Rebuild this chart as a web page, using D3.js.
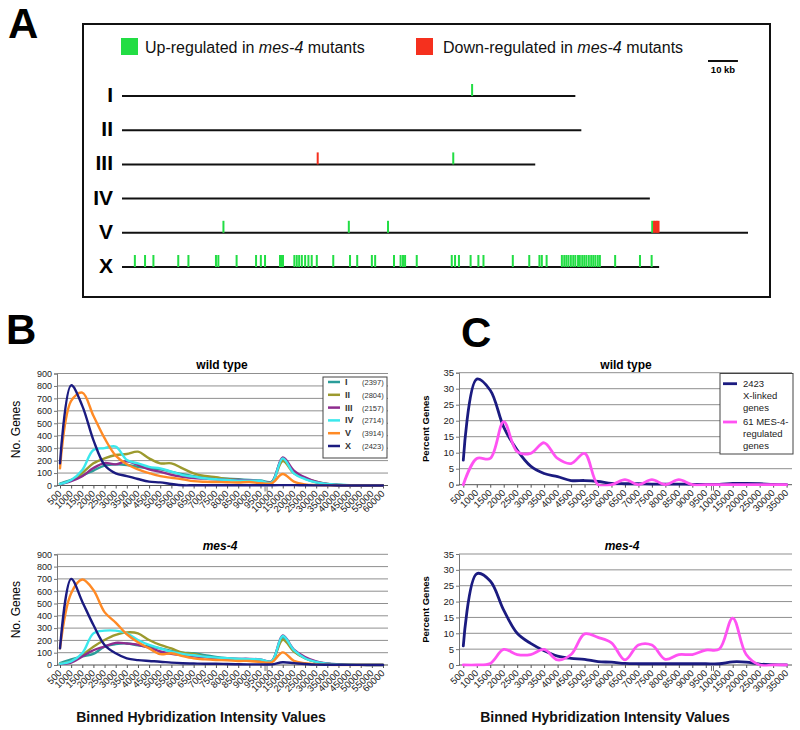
<!DOCTYPE html>
<html><head><meta charset="utf-8">
<script src="https://cdn.jsdelivr.net/npm/d3@7"></script>
<style>
body{margin:0;background:#fff}
svg{display:block}
text{font-family:"Liberation Sans",Arial,Helvetica,sans-serif}
</style>
</head><body>
<svg id="c" width="800" height="730"></svg>
<script>
// ---------- Panel A data (positions in Mb) ----------
const chromNames = ["I","II","III","IV","V","X"];
const chromLengths = [15.15,15.35,13.81,17.64,20.92,17.95];
const upI = [11.70];
const upIII = [11.07];
const downIII = [6.54];
const upV = [3.39,7.58,8.89,17.72];
const downV = [17.78,17.83,17.88,17.93];
const upX = [0.43,0.77,1.05,1.88,2.22,3.14,3.22,3.83,4.48,4.64,4.78,5.28,5.34,5.38,5.76,5.84,5.92,6.01,6.12,6.23,6.34,6.51,7.06,7.62,7.86,8.35,8.46,9.09,9.31,9.39,9.46,9.85,11.02,11.13,11.26,11.65,11.91,12.08,13.06,13.61,13.95,14.03,14.19,14.70,14.78,14.85,14.92,15.00,15.08,15.15,15.24,15.30,15.38,15.45,15.52,15.60,15.68,15.75,15.82,15.90,15.97,16.48,17.31,17.70];

// ---------- Panel B data ----------
const catsB = ["500","1000","1500","2000","2500","3000","3500","4000","4500","5000","5500","6000","6500","7000","7500","8000","8500","9000","9500","10000","15000","20000","25000","30000","35000","40000","45000","50000","55000","60000"];
const seriesNamesB = ["I","II","III","IV","V","X"];
const seriesCountsB = ["(2397)","(2804)","(2157)","(2714)","(3914)","(2423)"];
const wtI   = [15,45,80,120,160,170,165,150,140,130,110,90,75,65,60,55,50,45,40,30,215,110,55,25,10,4,2,1,0,0];
const wtII  = [10,40,100,178,218,245,253,272,218,178,178,138,98,76,66,52,44,39,35,25,196,98,60,30,12,5,2,1,0,0];
const wtIII = [10,35,75,140,180,170,195,165,130,110,85,70,60,55,50,45,45,42,35,25,225,120,65,30,12,5,2,1,0,0];
const wtIV  = [12,44,125,286,300,313,205,178,150,138,111,84,71,58,50,44,39,39,36,23,218,98,52,25,12,6,2,1,0,0];
const wtV   = [138,680,746,560,380,240,170,130,100,75,62,50,35,30,28,26,24,28,18,18,92,31,9,3,1,0,0,0,0,0];
const wtX   = [178,805,640,365,165,98,76,52,31,25,12,2,2,2,2,2,2,2,2,2,3,3,2,1,1,0,0,0,0,0];
const mesI   = [15,45,70,90,150,170,175,160,150,135,115,100,95,80,65,55,50,45,40,28,225,115,55,25,10,4,2,1,0,0];
const mesII  = [10,30,80,149,203,244,265,257,203,163,135,100,89,68,54,46,41,42,38,28,205,110,55,25,10,4,2,1,0,0];
const mesIII = [8,20,70,120,150,180,175,165,140,110,90,80,70,65,55,50,50,50,45,30,240,125,65,30,12,5,2,1,0,0];
const mesIV  = [10,30,95,257,279,279,257,203,163,135,108,89,79,68,60,55,50,48,45,30,236,120,55,25,10,5,2,1,0,0];
const mesV   = [135,583,695,610,430,345,250,185,135,88,95,72,54,46,41,38,33,33,24,22,103,33,14,5,2,0,0,0,0,0];
const mesX   = [135,700,515,325,163,95,54,40,33,27,19,14,12,10,10,8,6,5,5,5,22,15,8,3,2,2,1,1,0,0];
const yTicksB = [0,100,200,300,400,500,600,700,800,900];

// ---------- Panel C data ----------
const catsC = ["500","1000","1500","2000","2500","3000","3500","4000","4500","5000","5500","6000","6500","7000","7500","8000","8500","9000","9500","10000","15000","20000","25000","30000","35000"];
const wtXlinked = [7.7,33,29.5,18,10.8,5.8,3.5,2.5,1.3,1.3,1.0,0.4,0.3,0.3,0.2,0.2,0.2,0.1,0.1,0.1,0.4,0.4,0.3,0.1,0];
const wtMes4Reg = [0,8.2,8.2,19.7,10.3,9.8,13.1,8.2,6.6,9.8,0,0,1.6,0,1.6,0,1.6,0,0,0,0,0,0,0,0];
const mesXlinked = [6,28.8,26.5,17.3,10,6.8,4.5,2.8,2.1,1.8,1.05,0.9,0.5,0.4,0.4,0.4,0.4,0.4,0.4,0.4,1,0.9,0.3,0.1,0];
const mesMes4Reg = [0,0,0.5,4.9,3.3,3.3,4.9,1.6,3.3,9.8,8.7,7.0,1.6,6.3,6.3,1.8,3.3,3.3,4.7,5.0,14.8,3.3,0,0,0];
const yTicksC = [0,5,10,15,20,25,30,35];

const colorsB = ["#2a9d9a","#9c9a2e","#8e2c8e","#3be8ec","#ff8a25","#1b1b80"];
const colorX = "#1b1b80", colorPink = "#ff52f2";
const GREEN = "#22dd44", RED = "#f5301e";

const svg = d3.select("#c");

// ---------- Panel letters ----------
[["A",8,38],["B",6,344],["C",461,347]].forEach(([t,x,y])=>{
  svg.append("text").attr("x",x).attr("y",y).attr("font-size",42).attr("font-weight","bold").attr("fill","#000").text(t);
});

// ---------- Panel A ----------
const gA = svg.append("g");
gA.append("rect").attr("x",83).attr("y",24).attr("width",687).attr("height",273)
  .attr("fill","none").attr("stroke","#111").attr("stroke-width",2);
const xA = d3.scaleLinear().domain([0,20.92]).range([122,748]);
const yA = d3.scalePoint().domain(chromNames).range([96,267]);
// legend
gA.append("rect").attr("x",121).attr("y",38).attr("width",17).attr("height",17).attr("fill",GREEN);
const t1 = gA.append("text").attr("x",145).attr("y",53).attr("font-size",16).attr("fill","#111");
t1.append("tspan").text("Up-regulated in ");
t1.append("tspan").attr("font-style","italic").text("mes-4");
t1.append("tspan").text(" mutants");
gA.append("rect").attr("x",416).attr("y",38).attr("width",17).attr("height",17).attr("fill",RED);
const t2 = gA.append("text").attr("x",443).attr("y",53).attr("font-size",16).attr("fill","#111");
t2.append("tspan").text("Down-regulated in ");
t2.append("tspan").attr("font-style","italic").text("mes-4");
t2.append("tspan").text(" mutants");
// scale bar
gA.append("line").attr("x1",708).attr("x2",xA(1.0)-122+708).attr("y1",61).attr("y2",61).attr("stroke","#111").attr("stroke-width",2);
gA.append("text").attr("x",723).attr("y",73).attr("text-anchor","middle").attr("font-size",9.5).attr("font-weight","bold").text("10 kb");
// chromosomes
chromNames.forEach((c,i)=>{
  const y = yA(c);
  gA.append("line").attr("x1",xA(0)).attr("x2",xA(chromLengths[i])).attr("y1",y).attr("y2",y).attr("stroke","#111").attr("stroke-width",2);
  gA.append("text").attr("x",113).attr("y",y+6).attr("text-anchor","end").attr("font-size",21).attr("font-weight","bold").text(c);
});
function ticks(arr, chrom, color){
  gA.selectAll(null).data(arr).join("rect")
    .attr("x",d=>xA(d)-1).attr("width",2).attr("y",yA(chrom)-12).attr("height",12).attr("fill",color);
}
ticks(upI,"I",GREEN);
ticks(upIII,"III",GREEN);
ticks(downIII,"III",RED);
ticks(upV,"V",GREEN);
ticks(downV,"V",RED);
ticks(upX,"X",GREEN);

// ---------- Generic line chart ----------
let clipId = 0;
function lineChart(cfg){
  const g = svg.append("g");
  const x = d3.scalePoint().domain(cfg.cats).range(cfg.xr);
  const y = d3.scaleLinear().domain([0,cfg.yMax]).range([cfg.yBot,cfg.yTop]);
  // gridlines
  g.selectAll(null).data(cfg.yTicks.slice(1)).join("line")
    .attr("x1",cfg.left).attr("x2",cfg.right).attr("y1",d=>y(d)).attr("y2",d=>y(d))
    .attr("stroke","#8f8f8f").attr("stroke-width",1);
  // y axis
  const ya = g.append("g").attr("transform",`translate(${cfg.left},0)`)
    .call(d3.axisLeft(y).tickValues(cfg.yTicks).tickSize(3).tickPadding(2));
  ya.select(".domain").attr("stroke","#777");
  ya.selectAll(".tick line").attr("stroke","#777");
  ya.selectAll("text").attr("font-size",cfg.yFont).attr("fill","#222").attr("font-family","Liberation Sans, Arial, sans-serif");
  // x axis
  const xa = g.append("g").attr("transform",`translate(0,${cfg.yBot})`)
    .call(d3.axisBottom(x).tickSize(3).tickSizeOuter(0));
  xa.select(".domain").remove();
  xa.selectAll(".tick line").attr("stroke","#555");
  xa.selectAll("text").attr("font-size",cfg.xFont).attr("fill","#222")
    .attr("font-family","Liberation Sans, Arial, sans-serif")
    .attr("text-anchor","end").attr("dy",null).attr("y",null)
    .attr("transform","translate(0,7) rotate(-45)").attr("dominant-baseline","middle");
  g.append("line").attr("x1",cfg.left).attr("x2",cfg.right).attr("y1",cfg.yBot).attr("y2",cfg.yBot)
    .attr("stroke","#555").attr("stroke-width",1);
  // break marker between 9500 and 10000
  const bx = (x(cfg.cats[18])+x(cfg.cats[19]))/2;
  [-1,1].forEach(o=>g.append("line").attr("x1",bx+o).attr("x2",bx+o).attr("y1",cfg.yBot+1).attr("y2",cfg.yBot+6).attr("stroke","#777").attr("stroke-width",1));
  // lines
  const id = "clip"+(clipId++);
  svg.append("clipPath").attr("id",id).append("rect")
    .attr("x",cfg.left).attr("y",cfg.yTop-8).attr("width",cfg.right-cfg.left).attr("height",cfg.yBot-cfg.yTop+9.5);
  const line = d3.line().x((d,i)=>x(cfg.cats[i])).y(d=>y(d)).curve(d3.curveCatmullRom.alpha(0.5));
  const lg = g.append("g").attr("clip-path",`url(#${id})`);
  cfg.series.forEach((s,k)=>{
    lg.append("path").attr("d",line(s)).attr("fill","none").attr("stroke",cfg.colors[k])
      .attr("stroke-width",cfg.lw).attr("stroke-linejoin","round").attr("stroke-linecap","round");
  });
  // title
  const tt = g.append("text").attr("x",cfg.titleX).attr("y",cfg.titleY).attr("text-anchor","middle")
    .attr("font-size",12).attr("font-weight","bold").text(cfg.title);
  if(cfg.titleItalic) tt.attr("font-style","italic");
  // y label
  g.append("text").attr("transform",`translate(${cfg.ylabX},${(cfg.yTop+cfg.yBot)/2}) rotate(-90)`)
    .attr("text-anchor","middle").attr("font-size",cfg.ylabSize).attr("font-weight",cfg.ylabBold?"bold":"normal")
    .text(cfg.ylab);
  return {g,x,y};
}

// ---------- Panel B ----------
lineChart({cats:catsB, xr:[60,383], yMax:900, yTicks:yTicksB, yTop:373.5, yBot:485.5, left:57, right:388,
  series:[wtI,wtII,wtIII,wtIV,wtV,wtX], colors:colorsB, lw:2.4, yFont:9, xFont:9.5,
  title:"wild type", titleX:222, titleY:369, ylab:"No. Genes", ylabX:20, ylabSize:12, ylabBold:false});
lineChart({cats:catsB, xr:[60,383], yMax:900, yTicks:yTicksB, yTop:554.3, yBot:665, left:57, right:388,
  series:[mesI,mesII,mesIII,mesIV,mesV,mesX], colors:colorsB, lw:2.4, yFont:9, xFont:9.5,
  title:"mes-4", titleItalic:true, titleX:220, titleY:550, ylab:"No. Genes", ylabX:20, ylabSize:12, ylabBold:false});

// Legend B
const lgB = svg.append("g");
lgB.append("rect").attr("x",323).attr("y",377).attr("width",64).attr("height",81).attr("fill","#fff").attr("stroke","#444").attr("stroke-width",1);
seriesNamesB.forEach((n,i)=>{
  const yy = 382 + i*12.8;
  lgB.append("line").attr("x1",328).attr("x2",340).attr("y1",yy).attr("y2",yy).attr("stroke",colorsB[i]).attr("stroke-width",2.5);
  lgB.append("text").attr("x",345).attr("y",yy+3).attr("font-size",9).attr("font-weight","bold").attr("fill","#333").text(n);
  lgB.append("text").attr("x",362).attr("y",yy+3).attr("font-size",7.5).attr("fill","#333").text(seriesCountsB[i]);
});

// ---------- Panel C ----------
lineChart({cats:catsC, xr:[463.3,786.6], yMax:35, yTicks:yTicksC, yTop:372.7, yBot:484.7, left:459, right:792,
  series:[wtXlinked,wtMes4Reg], colors:[colorX,colorPink], lw:2.8, yFont:9.5, xFont:9.5,
  title:"wild type", titleX:626, titleY:369, ylab:"Percent Genes", ylabX:429, ylabSize:9.5, ylabBold:true});
lineChart({cats:catsC, xr:[463.3,786.6], yMax:35, yTicks:yTicksC, yTop:554, yBot:665, left:459, right:792,
  series:[mesXlinked,mesMes4Reg], colors:[colorX,colorPink], lw:2.8, yFont:9.5, xFont:9.5,
  title:"mes-4", titleItalic:true, titleX:622, titleY:550, ylab:"Percent Genes", ylabX:429, ylabSize:9.5, ylabBold:true});

// Legend C
const lgC = svg.append("g");
lgC.append("rect").attr("x",720).attr("y",373.5).attr("width",73).attr("height",80.5).attr("fill","#fff").attr("stroke","#444").attr("stroke-width",1);
const legC = [{c:colorX, y:383.7, lines:["2423","X-linked","genes"]},{c:colorPink, y:422, lines:["61 MES-4-","regulated","genes"]}];
legC.forEach(e=>{
  lgC.append("line").attr("x1",723).attr("x2",737).attr("y1",e.y).attr("y2",e.y).attr("stroke",e.c).attr("stroke-width",2.8);
  e.lines.forEach((t,j)=>{
    lgC.append("text").attr("x",743).attr("y",e.y+3.3+j*11.8).attr("font-size",9.5).attr("fill","#222").text(t);
  });
});

// ---------- Bottom axis titles ----------
[[201,722],[605,722]].forEach(([x,y])=>{
  svg.append("text").attr("x",x).attr("y",y).attr("text-anchor","middle").attr("font-size",14).attr("font-weight","bold").attr("fill","#111")
    .text("Binned Hybridization Intensity Values");
});
</script>
</body></html>
